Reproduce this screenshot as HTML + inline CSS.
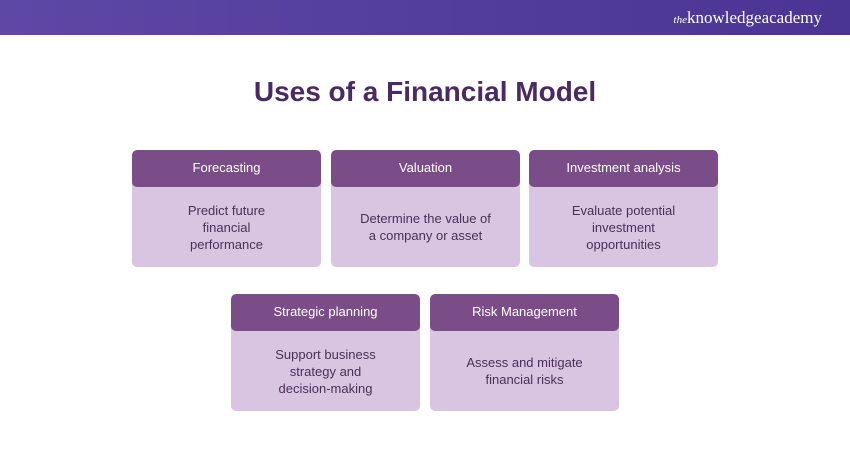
<!DOCTYPE html>
<html><head><style>
body{margin:0;width:850px;height:450px;background:#fff;position:relative;font-family:"Liberation Sans",sans-serif;overflow:hidden}
.hdr{position:absolute;left:0;top:0;width:850px;height:35px;background:linear-gradient(90deg,#5e48a6,#4a3494)}
.logo{position:absolute;right:28px;top:8px;color:#fff;font-family:"Liberation Serif",serif;font-size:17px}
.logo i{font-size:11px}
h1{position:absolute;top:76px;left:0;width:850px;text-align:center;margin:0;font-size:28px;color:#4a2a62;font-weight:bold}
.card{position:absolute;width:189px;height:117px;border-radius:5px;background:#d9c5e2;overflow:hidden}
.card .t{height:37px;background:#7a4c88;color:#fff;font-size:13px;text-align:center;line-height:36px;border-radius:5px}
.card .b{height:80px;display:flex;align-items:center;justify-content:center;text-align:center;font-size:13px;line-height:17px;color:#4a3154;padding:0 20px}
</style></head><body>
<div class="hdr"><div class="logo"><i>the</i>knowledgeacademy</div></div>
<h1>Uses of a Financial Model</h1>
<div class="card" style="left:132px;top:150px"><div class="t">Forecasting</div><div class="b">Predict future<br>financial<br>performance</div></div>
<div class="card" style="left:331px;top:150px"><div class="t">Valuation</div><div class="b">Determine the value of<br>a company or asset</div></div>
<div class="card" style="left:529px;top:150px"><div class="t">Investment analysis</div><div class="b">Evaluate potential<br>investment<br>opportunities</div></div>
<div class="card" style="left:231px;top:294px"><div class="t">Strategic planning</div><div class="b">Support business<br>strategy and<br>decision-making</div></div>
<div class="card" style="left:430px;top:294px"><div class="t">Risk Management</div><div class="b">Assess and mitigate<br>financial risks</div></div>
</body></html>
